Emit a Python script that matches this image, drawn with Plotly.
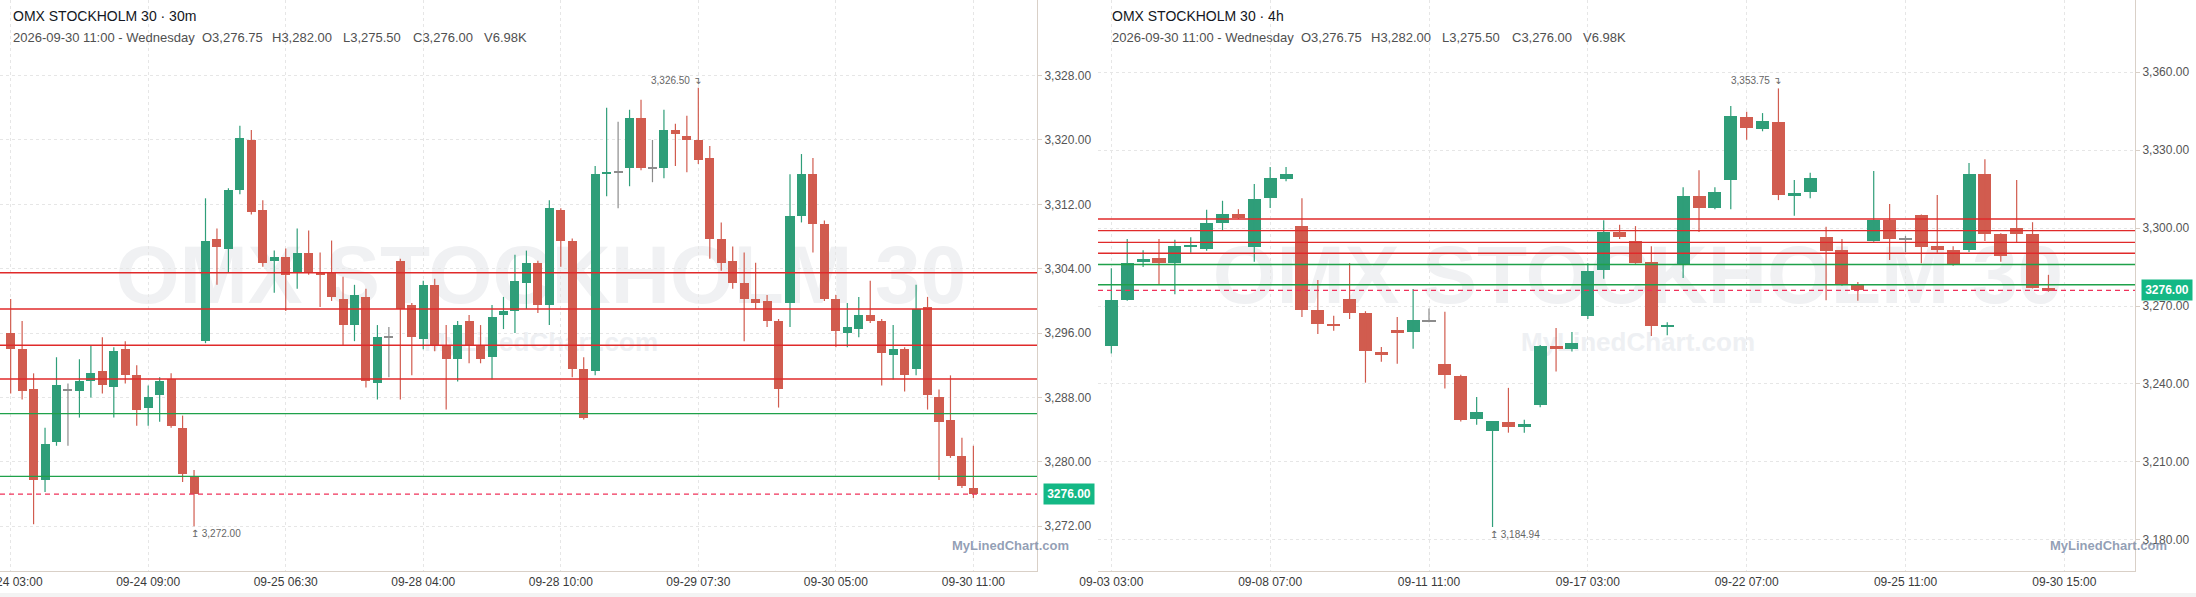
import plotly.graph_objects as go

# ---------------- data ----------------
left_tick_labels = ["09-24 03:00", "09-24 09:00", "09-25 06:30", "09-28 04:00",
                    "09-28 10:00", "09-29 07:30", "09-30 05:00", "09-30 11:00"]
right_tick_labels = ["09-03 03:00", "09-08 07:00", "09-11 11:00", "09-17 03:00",
                     "09-22 07:00", "09-25 11:00", "09-30 15:00"]

left_open = [3296.0, 3294.0, 3289.0, 3277.75, 3282.5, 3289.0, 3288.75, 3290.0, 3291.25, 3289.25,
             3294.0, 3290.75, 3286.75, 3288.25, 3290.25, 3284.25, 3278.25, 3295.0, 3307.75, 3306.5,
             3313.75, 3320.0, 3311.25, 3305.0, 3305.5, 3303.5, 3306.0, 3303.5, 3303.5, 3300.25,
             3297.0, 3300.5, 3289.75, 3295.5, 3305.0, 3299.5, 3295.25, 3302.0, 3294.5, 3292.75,
             3297.5, 3294.5, 3293.0, 3298.25, 3298.75, 3302.25, 3304.75, 3299.5, 3311.25, 3307.5,
             3291.5, 3291.25, 3315.75, 3316.0, 3316.5, 3322.75, 3316.5, 3316.5, 3321.25, 3320.5,
             3320.0, 3317.75, 3307.75, 3305.0, 3302.25, 3300.25, 3300.0, 3297.5, 3299.75, 3310.5,
             3315.75, 3309.5, 3300.25, 3296.0, 3296.5, 3298.25, 3297.5, 3293.25, 3294.0, 3291.5,
             3299.25, 3288.0, 3285.25, 3280.75, 3276.75]
left_high = [3300.25, 3297.5, 3291.0, 3284.25, 3293.0, 3289.75, 3292.75, 3294.5, 3295.5, 3294.25,
             3295.0, 3292.0, 3289.5, 3290.5, 3291.0, 3285.75, 3279.0, 3312.75, 3309.0, 3314.0,
             3321.75, 3321.25, 3312.5, 3306.25, 3306.5, 3309.0, 3308.75, 3306.0, 3307.5, 3303.0,
             3302.0, 3301.5, 3297.0, 3296.75, 3305.25, 3299.75, 3302.5, 3302.75, 3297.0, 3297.5,
             3298.25, 3297.0, 3299.5, 3300.5, 3305.75, 3306.25, 3305.0, 3312.5, 3311.5, 3307.75,
             3293.0, 3316.75, 3324.0, 3322.25, 3323.75, 3325.0, 3320.0, 3323.75, 3322.0, 3323.0,
             3326.5, 3319.25, 3309.75, 3306.75, 3306.0, 3304.75, 3300.75, 3297.75, 3315.75, 3318.25,
             3317.75, 3310.0, 3300.75, 3299.75, 3300.5, 3302.5, 3297.75, 3297.0, 3294.25, 3302.0,
             3300.5, 3289.0, 3290.75, 3283.0, 3282.0]
left_low = [3288.5, 3287.75, 3272.25, 3276.25, 3282.0, 3282.0, 3285.5, 3288.0, 3288.5, 3285.5,
            3289.75, 3284.5, 3284.5, 3285.0, 3284.25, 3277.5, 3272.0, 3294.75, 3302.0, 3303.5,
            3313.25, 3310.75, 3304.25, 3301.0, 3298.75, 3301.5, 3303.25, 3299.25, 3300.0, 3294.5,
            3295.0, 3289.25, 3287.75, 3290.5, 3287.75, 3290.75, 3294.0, 3293.75, 3286.5, 3290.0,
            3292.25, 3292.25, 3290.25, 3296.5, 3296.0, 3299.0, 3298.5, 3297.0, 3304.25, 3290.5,
            3285.25, 3290.75, 3313.0, 3311.5, 3314.25, 3316.25, 3314.75, 3315.25, 3316.75, 3316.0,
            3317.0, 3305.25, 3303.75, 3301.5, 3295.0, 3299.0, 3296.75, 3286.75, 3296.75, 3309.75,
            3306.0, 3300.0, 3294.25, 3294.25, 3295.5, 3297.25, 3289.5, 3290.25, 3288.75, 3290.75,
            3286.5, 3277.75, 3280.5, 3276.75, 3275.5]
left_close = [3294.0, 3288.75, 3277.75, 3282.25, 3289.5, 3289.0, 3290.0, 3291.0, 3289.5, 3293.75,
              3290.75, 3286.5, 3288.0, 3290.0, 3284.5, 3278.5, 3276.0, 3307.5, 3306.75, 3313.75,
              3320.25, 3311.0, 3304.75, 3305.5, 3303.25, 3306.0, 3303.5, 3303.25, 3300.5, 3297.0,
              3300.75, 3290.0, 3295.5, 3295.5, 3299.0, 3295.5, 3302.0, 3294.5, 3292.75, 3297.0,
              3294.5, 3292.75, 3298.0, 3298.75, 3302.5, 3304.75, 3299.5, 3311.5, 3307.5, 3291.5,
              3285.5, 3315.75, 3316.0, 3316.0, 3322.75, 3316.5, 3316.5, 3321.25, 3320.75, 3320.0,
              3317.5, 3307.75, 3304.75, 3302.25, 3300.25, 3299.75, 3297.5, 3289.0, 3310.5, 3315.75,
              3309.5, 3300.25, 3296.25, 3296.75, 3298.25, 3297.5, 3293.5, 3294.0, 3290.75, 3299.0,
              3288.25, 3285.0, 3280.75, 3277.0, 3276.0]

right_open = [3254.75, 3272.25, 3287.0, 3288.5, 3286.5, 3293.0, 3292.0, 3302.0, 3305.5, 3292.75,
              3311.5, 3319.0, 3300.75, 3268.5, 3263.0, 3272.75, 3267.25, 3252.25, 3260.75, 3260.0,
              3264.25, 3247.75, 3243.0, 3226.5, 3222.0, 3225.5, 3223.5, 3231.75, 3254.75, 3253.5,
              3266.25, 3283.75, 3298.5, 3295.0, 3287.0, 3262.25, 3286.25, 3312.25, 3307.75, 3318.5,
              3342.75, 3338.0, 3340.75, 3312.75, 3314.0, 3296.5, 3291.5, 3278.25, 3295.0, 3303.25,
              3295.75, 3305.0, 3293.0, 3291.5, 3291.5, 3320.75, 3297.75, 3300.0, 3297.75, 3276.75]
right_high = [3284.5, 3295.75, 3291.5, 3295.75, 3295.5, 3296.5, 3307.0, 3310.5, 3307.25, 3317.0,
              3323.5, 3323.5, 3311.5, 3280.0, 3266.25, 3286.5, 3268.0, 3254.25, 3265.75, 3276.5,
              3269.0, 3267.75, 3243.5, 3235.0, 3225.75, 3238.5, 3226.25, 3255.0, 3261.5, 3260.0,
              3286.5, 3303.0, 3301.25, 3300.75, 3293.0, 3263.75, 3315.75, 3322.25, 3315.75, 3347.0,
              3344.75, 3344.25, 3353.75, 3318.5, 3321.25, 3300.5, 3295.75, 3279.25, 3322.0, 3309.25,
              3297.0, 3305.25, 3312.75, 3293.0, 3325.0, 3326.5, 3298.0, 3318.5, 3302.25, 3282.0]
right_low = [3251.75, 3272.0, 3285.0, 3278.5, 3274.5, 3290.5, 3291.25, 3299.25, 3303.5, 3287.0,
             3307.75, 3318.0, 3265.75, 3259.25, 3260.5, 3265.0, 3240.5, 3248.5, 3247.75, 3253.5,
             3263.75, 3238.25, 3225.5, 3224.25, 3184.94, 3221.25, 3221.25, 3231.0, 3244.75, 3252.5,
             3265.0, 3280.5, 3295.75, 3286.25, 3258.5, 3258.75, 3280.75, 3298.5, 3307.25, 3307.25,
             3334.0, 3337.25, 3310.75, 3304.75, 3311.5, 3272.25, 3277.75, 3272.0, 3294.75, 3287.75,
             3290.75, 3286.5, 3290.5, 3285.5, 3290.75, 3295.0, 3287.0, 3294.5, 3276.75, 3275.5]
right_close = [3272.25, 3286.5, 3288.0, 3286.5, 3293.0, 3293.5, 3302.0, 3305.5, 3303.75, 3311.25,
               3319.25, 3320.75, 3268.5, 3263.0, 3262.75, 3267.25, 3252.5, 3251.0, 3259.5, 3264.5,
               3264.25, 3243.5, 3226.25, 3229.25, 3225.75, 3223.5, 3224.5, 3254.75, 3253.5, 3255.75,
               3283.5, 3298.5, 3296.75, 3286.5, 3262.25, 3262.75, 3312.25, 3307.75, 3314.0, 3343.0,
               3338.5, 3341.25, 3312.75, 3313.25, 3319.25, 3291.25, 3278.25, 3276.25, 3303.25, 3295.75,
               3295.75, 3292.75, 3291.5, 3286.25, 3320.75, 3297.75, 3289.25, 3297.75, 3277.0, 3276.0]

resistance_levels = [3303.5, 3299.0, 3294.5, 3290.3]
support_levels = [3286.0, 3278.2]
last_price = 3276.0
last_bar_time = "2026-09-30 11:00 - Wednesday"
last_volume = 6980

left_yticks = [3272, 3280, 3288, 3296, 3304, 3312, 3320, 3328]
right_yticks = [3180, 3210, 3240, 3270, 3300, 3330, 3360]

# ---------------- styling ----------------
W, H = 2196, 597
PLOT_H = 571
UP = "#2f9e79"
DOWN = "#d15c4f"
FLAT = "#8c8c8c"
RES = "#e02a2a"
SUP = "#1fa14a"
LAST = "#f0325a"
GRID = "#e6e6e6"
AXLINE = "#d9d0c7"
FONT = "Liberation Sans, Arial, sans-serif"

left_xrange = [-0.93, 89.55]
right_xrange = [-0.84, 64.45]
left_yrange = [3266.44, 3337.39]
right_yrange = [3168.01, 3387.77]

fig = go.Figure()


def add_candles(o, h, l, c, xa, ya, width, yrange):
    min_body = 1.6 * (yrange[1] - yrange[0]) / PLOT_H
    groups = {UP: [], DOWN: [], FLAT: []}
    for i in range(len(o)):
        if c[i] > o[i]:
            groups[UP].append(i)
        elif c[i] < o[i]:
            groups[DOWN].append(i)
        else:
            groups[FLAT].append(i)
    for color, idx in groups.items():
        xs, base, hgt = [], [], []
        wx, wy = [], []
        for i in idx:
            lo, hi = min(o[i], c[i]), max(o[i], c[i])
            if hi - lo < min_body:
                mid = (hi + lo) / 2
                lo, hi = mid - min_body / 2, mid + min_body / 2
            xs.append(i)
            base.append(lo)
            hgt.append(hi - lo)
            wx += [i, i, None]
            wy += [l[i], h[i], None]
        fig.add_trace(go.Scatter(x=wx, y=wy, mode="lines", line=dict(color=color, width=1.2),
                                 xaxis=xa, yaxis=ya, hoverinfo="skip", showlegend=False))
        fig.add_trace(go.Bar(x=xs, y=hgt, base=base, width=width,
                             marker=dict(color=color, line=dict(width=0)),
                             xaxis=xa, yaxis=ya, hoverinfo="skip", showlegend=False))


add_candles(left_open, left_high, left_low, left_close, "x", "y", 0.79, left_yrange)
add_candles(right_open, right_high, right_low, right_close, "x2", "y2", 0.82, right_yrange)


def fmt(v):
    return f"{v:,.2f}"


axis_common = dict(showgrid=True, gridcolor=GRID, griddash="3px,3px", gridwidth=1,
                   zeroline=False, automargin=False, fixedrange=True)

fig.update_layout(
    width=W, height=H,
    margin=dict(l=0, r=0, t=0, b=H - PLOT_H, pad=0),
    paper_bgcolor="white", plot_bgcolor="rgba(0,0,0,0)",
    barmode="overlay", bargap=0, showlegend=False,
    font=dict(family=FONT, size=12, color="#333"),
    xaxis=dict(domain=[0, 1037 / W], range=left_xrange,
               tickmode="array", tickvals=[12 * k for k in range(len(left_tick_labels))],
               ticktext=left_tick_labels, showline=True, linecolor=AXLINE, linewidth=1,
               ticks="", ticklabeloverflow="allow",
               tickfont=dict(size=12, color="#3a3a3a"), **axis_common),
    yaxis=dict(domain=[0, 1], range=left_yrange, side="right", anchor="x",
               tickmode="array", tickvals=left_yticks, ticktext=[fmt(v) for v in left_yticks],
               showline=True, linecolor=AXLINE, linewidth=1, ticks="outside", ticklen=4,
               tickcolor=AXLINE, tickfont=dict(size=12, color="#555"), **axis_common),
    xaxis2=dict(domain=[1098 / W, 2135 / W], range=right_xrange, anchor="y2",
                tickmode="array", tickvals=[10 * k for k in range(len(right_tick_labels))],
                ticktext=right_tick_labels, showline=True, linecolor=AXLINE, linewidth=1,
                ticks="", ticklabeloverflow="allow",
                tickfont=dict(size=12, color="#3a3a3a"), **axis_common),
    yaxis2=dict(domain=[0, 1], range=right_yrange, side="right", anchor="x2",
                tickmode="array", tickvals=right_yticks, ticktext=[fmt(v) for v in right_yticks],
                showline=True, linecolor=AXLINE, linewidth=1, ticks="outside", ticklen=4,
                tickcolor=AXLINE, tickfont=dict(size=12, color="#555"), **axis_common),
)

shapes = []
annotations = []

panels = [
    dict(xa="x", ya="y", xd="x domain", title="OMX STOCKHOLM 30 · 30m", x_left=11,
         center=541, axis_x=1037, o=left_open, h=left_high, l=left_low, c=left_close),
    dict(xa="x2", ya="y2", xd="x2 domain", title="OMX STOCKHOLM 30 · 4h", x_left=1110,
         center=1638, axis_x=2135, o=right_open, h=right_high, l=right_low, c=right_close),
]

for p in panels:
    # watermarks (behind candles)
    cx = p["center"] / W
    shapes.append(dict(type="rect", xref="paper", yref="paper", x0=cx - 0.2, x1=cx + 0.2,
                       y0=1 - 306 / PLOT_H, y1=1 - 226 / PLOT_H, layer="below",
                       line=dict(width=0), fillcolor="rgba(0,0,0,0)",
                       label=dict(text="OMX STOCKHOLM 30", textposition="middle center",
                                  font=dict(family=FONT, size=82, color="#f0f1f3", weight="bold"))))
    shapes.append(dict(type="rect", xref="paper", yref="paper", x0=cx - 0.1, x1=cx + 0.1,
                       y0=1 - 356 / PLOT_H, y1=1 - 324 / PLOT_H, layer="below",
                       line=dict(width=0), fillcolor="rgba(0,0,0,0)",
                       label=dict(text="MyLinedChart.com", textposition="middle center",
                                  font=dict(family=FONT, size=26, color="#eef0f3", weight="bold"))))
    # level lines
    for v in resistance_levels:
        shapes.append(dict(type="line", xref=p["xd"], yref=p["ya"], x0=0, x1=1, y0=v, y1=v,
                           line=dict(color=RES, width=1.4)))
    for v in support_levels:
        shapes.append(dict(type="line", xref=p["xd"], yref=p["ya"], x0=0, x1=1, y0=v, y1=v,
                           line=dict(color=SUP, width=1.4)))
    shapes.append(dict(type="line", xref=p["xd"], yref=p["ya"], x0=0, x1=1, y0=last_price,
                       y1=last_price, line=dict(color=LAST, width=1.3, dash="5px,4px")))

    # header
    annotations.append(dict(xref="paper", yref="paper", x=p["x_left"] / W, y=1 - 16 / PLOT_H,
                            xanchor="left", yanchor="middle", showarrow=False, text=p["title"],
                            font=dict(family=FONT, size=14, color="#131722")))
    o, h, l, c = p["o"], p["h"], p["l"], p["c"]
    items = [last_bar_time, "O" + fmt(o[-1]), "H" + fmt(h[-1]), "L" + fmt(l[-1]),
             "C" + fmt(c[-1]), f"V{last_volume / 1000:.2f}K"]
    offsets = [0, 189, 259, 330, 400, 471]
    for txt, off in zip(items, offsets):
        annotations.append(dict(xref="paper", yref="paper", x=(p["x_left"] + off) / W,
                                y=1 - 38 / PLOT_H, xanchor="left", yanchor="middle",
                                showarrow=False, text=txt,
                                font=dict(family=FONT, size=13, color="#505050")))

    # high / low markers
    hi_i = max(range(len(h)), key=lambda i: h[i])
    lo_i = min(range(len(l)), key=lambda i: l[i])
    annotations.append(dict(xref=p["xa"], yref=p["ya"], x=hi_i, y=h[hi_i], xanchor="right",
                            yanchor="bottom", xshift=5, showarrow=False,
                            text=f"{fmt(h[hi_i])} ↴", font=dict(family=FONT, size=10, color="#666")))
    annotations.append(dict(xref=p["xa"], yref=p["ya"], x=lo_i, y=l[lo_i], xanchor="left",
                            yanchor="top", xshift=-5, showarrow=False,
                            text=f"↥ {fmt(l[lo_i])}", font=dict(family=FONT, size=10, color="#666")))

    # current price tag
    annotations.append(dict(xref="paper", yref=p["ya"], x=(p["axis_x"] + 6) / W, y=last_price,
                            xanchor="left", yanchor="middle", showarrow=False,
                            text=f"<b>{last_price:.2f}</b>", bgcolor="#14b885", width=48, height=18,
                            borderpad=1, font=dict(family=FONT, size=12, color="white")))
    # small watermark bottom-right
    annotations.append(dict(xref="paper", yref="paper", x=(p["axis_x"] + 34) / W,
                            y=1 - 545 / PLOT_H, xanchor="right", yanchor="middle",
                            showarrow=False, text="<b>MyLinedChart.com</b>",
                            font=dict(family=FONT, size=13, color="rgba(128,142,168,0.85)")))

# bottom strip
shapes.append(dict(type="rect", xref="paper", yref="paper", x0=0, x1=1,
                   y0=-(H - PLOT_H) / PLOT_H, y1=-(H - PLOT_H - 4) / PLOT_H,
                   line=dict(width=0), fillcolor="#f3f3f3", layer="below"))

fig.update_layout(shapes=shapes, annotations=annotations)

fig.write_html("out.html", config={"displayModeBar": False},
               post_script="document.body.style.margin='0px';document.body.style.overflow='hidden';")
